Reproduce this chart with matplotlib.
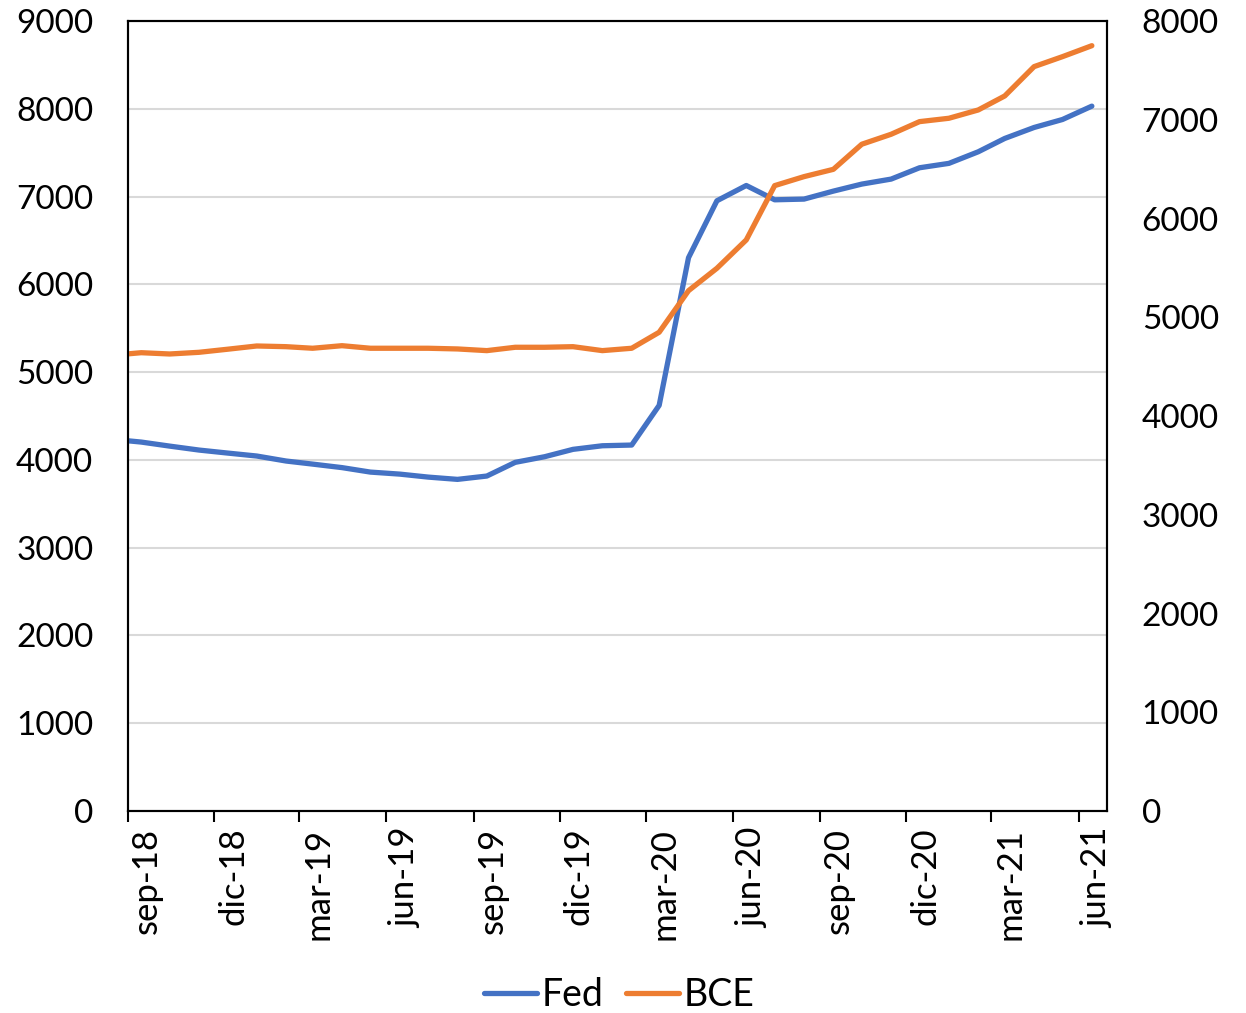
import datetime as dt
import matplotlib
matplotlib.use("Agg")
import matplotlib.pyplot as plt
import matplotlib.dates as mdates
import matplotlib.transforms as mtransforms

plt.rcParams['font.family'] = ['Lato', 'DejaVu Sans']

# datos mensuales (mitad de mes), ago-18 queda recortado por el eje
fechas = [dt.date(2018 + (7 + i) // 12, (7 + i) % 12 + 1, 15) for i in range(35)]

fed = [4235, 4203, 4157, 4112, 4078,
       4044, 3987, 3952, 3912, 3861, 3838, 3804, 3778, 3816, 3972, 4036, 4120,
       4161, 4169, 4621, 6303, 6952, 7126, 6963, 6971, 7062, 7142, 7199, 7328,
       7378, 7510, 7662, 7787, 7878, 8030]

bce = [4615, 4641, 4628, 4645, 4676,
       4709, 4702, 4686, 4712, 4686, 4686, 4686, 4679, 4662, 4696, 4696, 4702,
       4662, 4686, 4848, 5269, 5496, 5783, 6333, 6424, 6498, 6752, 6853, 6981,
       7015, 7099, 7241, 7538, 7639, 7750]

tick_fechas = [dt.date(2018, 9, 1), dt.date(2018, 12, 1), dt.date(2019, 3, 1),
               dt.date(2019, 6, 1), dt.date(2019, 9, 1), dt.date(2019, 12, 1),
               dt.date(2020, 3, 1), dt.date(2020, 6, 1), dt.date(2020, 9, 1),
               dt.date(2020, 12, 1), dt.date(2021, 3, 1), dt.date(2021, 6, 1)]
tick_labels = ['sep-18', 'dic-18', 'mar-19', 'jun-19', 'sep-19', 'dic-19',
               'mar-20', 'jun-20', 'sep-20', 'dic-20', 'mar-21', 'jun-21']

azul = '#4472C4'
naranja = '#ED7D31'

fig = plt.figure(figsize=(12.46, 10.13), dpi=100)
ax = fig.add_axes([128 / 1246, 1 - 811 / 1013, (1107 - 128) / 1246, (811 - 21) / 1013])
ax2 = ax.twinx()

l1, = ax.plot(fechas, fed, color=azul, lw=3.8, solid_capstyle='round',
              solid_joinstyle='round', label='Fed')
l2, = ax2.plot(fechas, bce, color=naranja, lw=3.8, solid_capstyle='round',
               solid_joinstyle='round', label='BCE')

ax.set_xlim(dt.date(2018, 9, 1), dt.date(2021, 7, 1))
ax.set_ylim(0, 9000)
ax2.set_ylim(0, 8000)
ax.set_yticks(range(0, 9001, 1000))
ax2.set_yticks(range(0, 8001, 1000))

ax.yaxis.grid(True, color='#D9D9D9', lw=1.5)
ax.set_axisbelow(True)

ax.set_xticks(mdates.date2num(tick_fechas))
ax.set_xticklabels(tick_labels, rotation=90, fontsize=25)
ax.tick_params(axis='x', length=8, width=1.5, color='black', pad=4)
ax.tick_params(axis='y', length=0, labelsize=24, pad=25)
ax2.tick_params(axis='y', length=0, labelsize=24, pad=25)

off = mtransforms.ScaledTranslation(19 / 100, 0, fig.dpi_scale_trans)
for lab in ax.get_xticklabels():
    lab.set_transform(lab.get_transform() + off)

for a in (ax, ax2):
    for s in a.spines.values():
        s.set_color('black')
        s.set_linewidth(1.5)

fig.legend(handles=[l1, l2], loc='center', bbox_to_anchor=(0.497, 0.018),
           ncol=2, frameon=False, fontsize=27, handlelength=1.4,
           handletextpad=0.13, columnspacing=0.6, borderpad=0)

fig.savefig('out.png', dpi=100)
